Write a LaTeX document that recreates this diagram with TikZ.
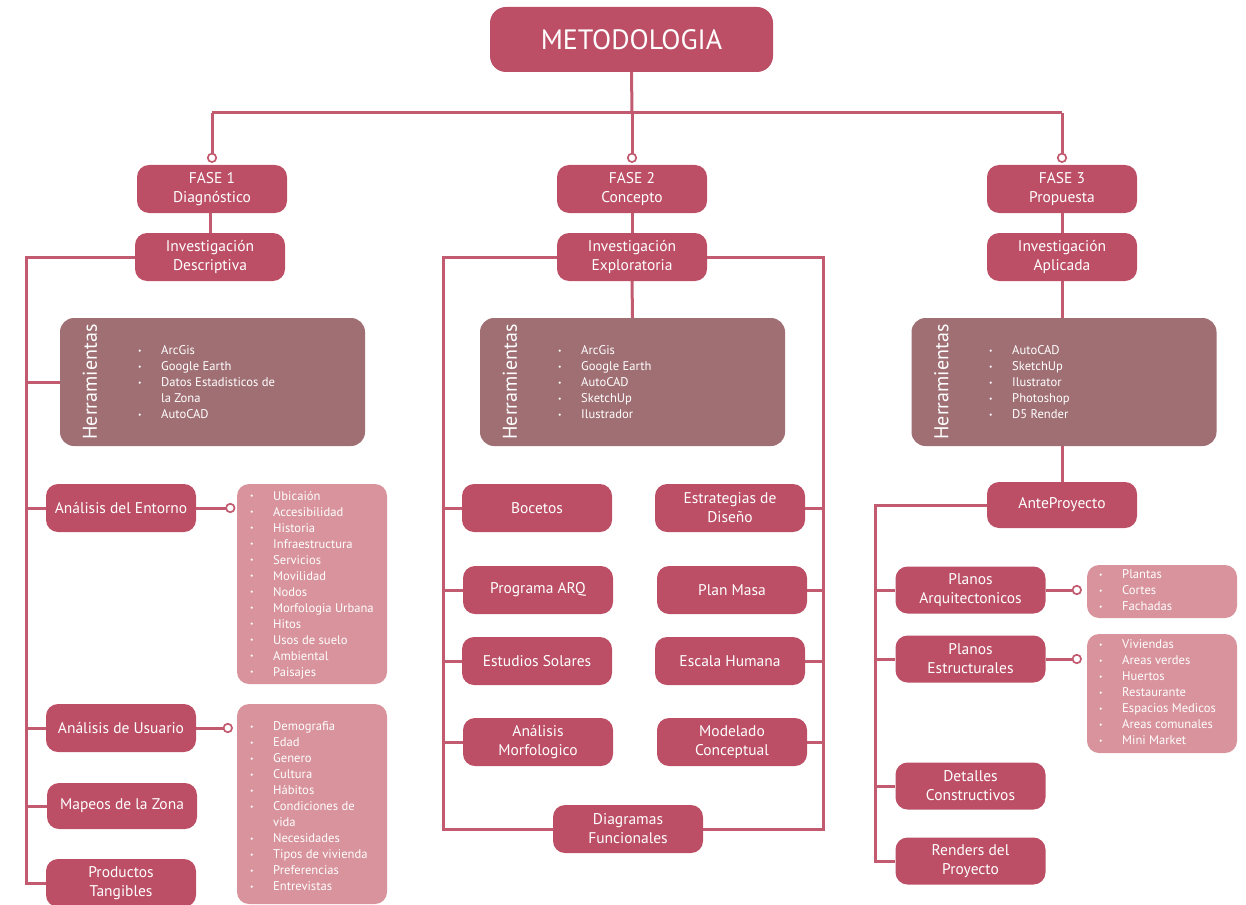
\documentclass[tikz,border=0pt]{standalone}
\usepackage{fontspec}
\setmainfont{PT Sans}
\usepackage{graphicx}
\definecolor{rose}{HTML}{BC4F66}
\definecolor{mauve}{HTML}{A06F74}
\definecolor{blush}{HTML}{D8939C}
\definecolor{wire}{HTML}{C25A70}
\newcommand{\bul}{\makebox[24pt][l]{\hspace{1pt}\raisebox{0.2ex}{\scalebox{0.6}{\textbullet}}}}
\newcommand{\cont}{\hspace*{24pt}}
\newcommand{\lowered}[1]{\raisebox{-1.5pt}{\begin{tabular}{@{}c@{}}#1\end{tabular}}}
\begin{document}
\begin{tikzpicture}[x=1pt,y=-1pt,
  box/.style={rectangle, rounded corners=12pt, fill=rose, text=white,
    minimum width=150pt, minimum height=48pt, inner sep=0pt, align=center,
    font=\fontsize{15.5}{19}\selectfont},
  toolbox/.style={rectangle, rounded corners=14pt, fill=mauve,
    minimum width=305pt, minimum height=128pt, inner sep=0pt},
  toolhead/.style={rotate=90, text=white, inner sep=0pt,
    font=\fontsize{20}{24}\selectfont},
  listbox/.style={rectangle, rounded corners=12pt, fill=blush,
    minimum width=150pt, inner sep=0pt},
  items/.style={anchor=west, text=white, inner sep=0pt, align=left,
    font=\fontsize{12.6}{16}\selectfont},
  conn/.style={draw=wire, line width=3pt},
  knob/.style={circle, draw=wire, line width=1.7pt, fill=white,
    minimum size=8.5pt, inner sep=0pt}]
\useasboundingbox (0,0) rectangle (1246,904);
\clip (0,0) rectangle (1246,904);

% ---- top level ----
\node[box, minimum width=283pt, minimum height=65pt, rounded corners=16pt,
  font=\fontsize{28}{30}\selectfont] (meto) at (631.5,39.5) {\raisebox{-2pt}{METODOLOGIA}};

\node[box] (f1) at (212,189) {FASE 1\\Diagnóstico};
\node[box] (f2) at (632,189) {FASE 2\\Concepto};
\node[box] (f3) at (1062,189) {FASE 3\\Propuesta};

\node[box] (i1) at (210,257) {Investigación\\Descriptiva};
\node[box] (i2) at (632,257) {Investigación\\Exploratoria};
\node[box] (i3) at (1062,257) {Investigación\\Aplicada};

\coordinate (bus) at (632,113);
\draw[conn] (meto.south) -- (bus);
\draw[conn] (f1.north |- bus) -- (f3.north |- bus);
\draw[conn] (f1.north |- bus) -- ([yshift=7pt]f1.north) node[knob] (k1) {};
\draw[conn] (f2.north |- bus) -- ([yshift=7pt]f2.north) node[knob] (k2) {};
\draw[conn] (f3.north |- bus) -- ([yshift=7pt]f3.north) node[knob] (k3) {};

\draw[conn] (i1.north) -- (i1.north |- f1.south);
\draw[conn] (f2.south) -- (i2.north);
\draw[conn] (f3.south) -- (i3.north);

% ---- tool boxes ----
\node[toolbox] (h1) at (212.5,382) {};
\node[toolhead] (h1t) at ([xshift=30pt]h1.west) {Herramientas};
\node[items] (h1l) at (137,382) {\bul ArcGis\\\bul Google Earth\\\bul Datos Estadisticos de\\\cont la Zona\\\bul AutoCAD};

\node[toolbox] (h2) at (632.5,382) {};
\node[toolhead] (h2t) at ([xshift=30pt]h2.west) {Herramientas};
\node[items] (h2l) at (557,382) {\bul ArcGis\\\bul Google Earth\\\bul AutoCAD\\\bul SketchUp\\\bul Ilustrador};

\node[toolbox] (h3) at (1064,382) {};
\node[toolhead] (h3t) at ([xshift=30pt]h3.west) {Herramientas};
\node[items] (h3l) at (988,382) {\bul AutoCAD\\\bul SketchUp\\\bul Ilustrator\\\bul Photoshop\\\bul D5 Render};

% ---- phase 1 branch ----
\node[box] (ae) at (121,508) {Análisis del Entorno};
\node[box] (au) at (121,728) {Análisis de Usuario};
\node[box, minimum height=46pt] (mz) at (122,806) {Mapeos de la Zona};
\node[box] (pt) at (121,883) {Productos\\Tangibles};

\node[listbox, minimum height=200pt] (le) at (312,584) {};
\node[items] (lel) at (249,585) {\bul Ubicaión\\\bul Accesibilidad\\\bul Historia\\\bul Infraestructura\\\bul Servicios\\\bul Movilidad\\\bul Nodos\\\bul Morfologia Urbana\\\bul Hitos\\\bul Usos de suelo\\\bul Ambiental\\\bul Paisajes};
\node[listbox, minimum height=200pt] (lu) at (312,804) {};
\node[items] (lul) at (249,806.5) {\bul Demografia\\\bul Edad\\\bul Genero\\\bul Cultura\\\bul Hábitos\\\bul Condiciones de\\\cont vida\\\bul Necesidades\\\bul Tipos de vivienda\\\bul Preferencias\\\bul Entrevistas};

\coordinate (railA) at (26,0);
\draw[conn] (i1.west) -- (i1.west -| railA) -- (railA |- pt.west) -- (pt.west);
\draw[conn] (h1.west -| railA) -- (h1.west);
\draw[conn] (ae.west -| railA) -- (ae.west);
\draw[conn] (au.west -| railA) -- (au.west);
\draw[conn] (mz.west -| railA) -- (mz.west);
\draw[conn] (ae.east) -- ([xshift=-6.5pt]le.west |- ae.east) node[knob] (ke) {};
\draw[conn] (au.east) -- ([xshift=-9pt]lu.west |- au.east) node[knob] (ku) {};

% ---- phase 2 branch ----
\draw[conn] (i2.south) -- (h2.north);
\node[box] (boc) at (537,508) {Bocetos};
\node[box] (est) at (730,508) {Estrategias de\\Diseño};
\node[box] (arq) at (538,590) {Programa ARQ};
\node[box] (pm) at (732,590) {Plan Masa};
\node[box] (sol) at (537,661) {Estudios Solares};
\node[box] (hum) at (730,661) {Escala Humana};
\node[box] (morf) at (538,742) {Análisis\\Morfologico};
\node[box] (mc) at (732,742) {Modelado\\Conceptual};
\node[box] (df) at (628,829) {Diagramas\\Funcionales};

\coordinate (railL) at (443,0);
\coordinate (railR) at (823,0);
\draw[conn] (i2.west) -- (i2.west -| railL) -- (railL |- df.west) -- (df.west);
\draw[conn] (i2.east) -- (i2.east -| railR) -- (railR |- df.east) -- (df.east);
\draw[conn] (boc.west -| railL) -- (boc.west);
\draw[conn] (arq.west -| railL) -- (arq.west);
\draw[conn] (sol.west -| railL) -- (sol.west);
\draw[conn] (morf.west -| railL) -- (morf.west);
\draw[conn] (est.east) -- (est.east -| railR);
\draw[conn] (pm.east) -- (pm.east -| railR);
\draw[conn] (hum.east) -- (hum.east -| railR);
\draw[conn] (mc.east) -- (mc.east -| railR);

% ---- phase 3 branch ----
\node[box, minimum height=46pt] (ante) at (1062,505) {AnteProyecto};
\draw[conn] (i3.south) -- (i3.south |- h3.north);
\draw[conn] (h3.south -| ante.north) -- (ante.north);

\node[box, minimum height=47pt] (parq) at (970.5,590) {Planos\\Arquitectonicos};
\node[box, minimum height=47pt] (pest) at (970.5,659) {Planos\\Estructurales};
\node[box, minimum height=47pt] (det) at (970.5,786) {Detalles\\Constructivos};
\node[box, minimum height=47pt] (ren) at (970.5,861) {Renders del\\Proyecto};

\node[listbox, minimum height=53pt] (lp) at (1162,591.5) {};
\node[items] (lpl) at (1098,590) {\bul Plantas\\\bul Cortes\\\bul Fachadas};
\node[listbox, minimum height=119pt] (lv) at (1162,693.5) {};
\node[items] (lvl) at (1098,692) {\bul Viviendas\\\bul Areas verdes\\\bul Huertos\\\bul Restaurante\\\bul Espacios Medicos\\\bul Areas comunales\\\bul Mini Market};

\coordinate (railC) at (875,0);
\draw[conn] (ante.west) -- (ante.west -| railC) -- (railC |- ren.west) -- (ren.west);
\draw[conn] (parq.west -| railC) -- (parq.west);
\draw[conn] (pest.west -| railC) -- (pest.west);
\draw[conn] (det.west -| railC) -- (det.west);
\draw[conn] (parq.east) -- ([xshift=-10pt]lp.west |- parq.east) node[knob] (kp) {};
\draw[conn] (pest.east) -- ([xshift=-10pt]lv.west |- pest.east) node[knob] (ks) {};
\end{tikzpicture}
\end{document}
